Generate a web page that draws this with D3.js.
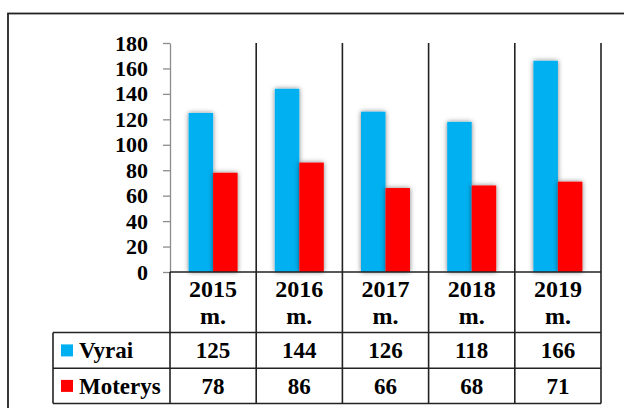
<!DOCTYPE html>
<html>
<head>
<meta charset="utf-8">
<script src="https://cdn.jsdelivr.net/npm/d3@7"></script>
<style>
  body { margin: 0; background: #fff; }
</style>
</head>
<body>
<script>
// duomenys
var metai = ["2015", "2016", "2017", "2018", "2019"];
var serijos = ["Vyrai", "Moterys"];
var vyrai = [125, 144, 126, 118, 166];
var moterys = [78, 86, 66, 68, 71];
var yTicks = [0, 20, 40, 60, 80, 100, 120, 140, 160, 180];
var spalvos = ["#00B0F0", "#FF0000"];

var W = 624, H = 408;
var plot = {left: 170, right: 601, top: 43, bottom: 272};
var lentele = {left: 53, head: 332.5, mid: 368.3, bottom: 403.5};
var sriftas = "'Liberation Serif', 'Times New Roman', serif";

var svg = d3.select("body").append("svg")
    .attr("width", W)
    .attr("height", H);

// seselis stulpeliams
var defs = svg.append("defs");
var f = defs.append("filter").attr("id", "seselis")
    .attr("x", "-40%").attr("y", "-10%").attr("width", "180%").attr("height", "120%");
f.append("feDropShadow")
    .attr("dx", 0).attr("dy", 0)
    .attr("stdDeviation", 2.5)
    .attr("flood-color", "#000")
    .attr("flood-opacity", 0.5);

// isorinis remelis
svg.append("rect")
    .attr("x", 8).attr("y", 13.5)
    .attr("width", 640).attr("height", 420)
    .attr("fill", "none")
    .attr("stroke", "#222")
    .attr("stroke-width", 1.8);

var x0 = d3.scaleBand().domain(metai).range([plot.left, plot.right]).padding(0);
var x1 = d3.scaleBand().domain(serijos).range([0, x0.bandwidth()])
    .paddingInner(0).paddingOuter(0.76);
var y = d3.scaleLinear().domain([0, 180]).range([plot.bottom, plot.top]);

var duomenys = metai.map(function(m, i) {
  return {metai: m, reiksmes: [vyrai[i], moterys[i]]};
});

// stulpeliai
var grupes = svg.selectAll(".grupe")
    .data(duomenys)
    .enter().append("g")
    .attr("class", "grupe")
    .attr("transform", function(d) { return "translate(" + x0(d.metai) + ",0)"; });

grupes.selectAll("rect")
    .data(function(d) { return d.reiksmes.map(function(v, j) { return {s: serijos[j], v: v, j: j}; }); })
    .enter().append("rect")
    .attr("x", function(d) { return x1(d.s); })
    .attr("y", function(d) { return y(d.v); })
    .attr("width", x1.bandwidth())
    .attr("height", function(d) { return y(0) - y(d.v); })
    .attr("fill", function(d) { return spalvos[d.j]; })
    .attr("filter", "url(#seselis)");

// y asis
var yAxis = d3.axisLeft(y).tickValues(yTicks).tickSize(7).tickSizeOuter(0).tickPadding(15);
var ag = svg.append("g")
    .attr("transform", "translate(" + plot.left + ",0)")
    .call(yAxis)
    .attr("font-family", null)
    .attr("font-size", null);
ag.select(".domain").attr("stroke", "#8c8c8c").attr("stroke-width", 1.3);
ag.selectAll(".tick line").attr("stroke", "#8c8c8c").attr("stroke-width", 1.3);
ag.selectAll(".tick text")
    .style("font-family", sriftas)
    .style("font-weight", "bold")
    .style("font-size", "22px")
    .attr("fill", "#000");

// kategoriju skirtukai
var ribos = metai.slice(1).map(function(m) { return x0(m); }).concat([plot.right]);
svg.selectAll(".skirtukas")
    .data(ribos)
    .enter().append("line")
    .attr("x1", function(d) { return d; }).attr("x2", function(d) { return d; })
    .attr("y1", plot.top).attr("y2", lentele.bottom)
    .attr("stroke", "#222").attr("stroke-width", 1.6);

// lenteles linijos
var linija = function(x1_, y1_, x2_, y2_) {
  svg.append("line")
    .attr("x1", x1_).attr("y1", y1_).attr("x2", x2_).attr("y2", y2_)
    .attr("stroke", "#222").attr("stroke-width", 1.6);
};
linija(plot.left, plot.bottom, plot.right, plot.bottom);
linija(plot.left, plot.bottom, plot.left, lentele.bottom);
linija(lentele.left, lentele.head, plot.right, lentele.head);
linija(lentele.left, lentele.mid, plot.right, lentele.mid);
linija(lentele.left, lentele.bottom, plot.right, lentele.bottom);
linija(lentele.left, lentele.head, lentele.left, lentele.bottom);

// metu antrastes
var antr = svg.selectAll(".antraste")
    .data(metai)
    .enter().append("text")
    .attr("text-anchor", "middle")
    .style("font-family", sriftas)
    .style("font-weight", "bold")
    .style("font-size", "24px");
antr.append("tspan")
    .attr("x", function(d) { return x0(d) + x0.bandwidth() / 2; })
    .attr("y", 296.5)
    .text(function(d) { return d; });
antr.append("tspan")
    .attr("x", function(d) { return x0(d) + x0.bandwidth() / 2; })
    .attr("y", 324)
    .text("m.");

// reiksmiu eilutes
var eilutes = [vyrai, moterys];
var eilY = [(lentele.head + lentele.mid) / 2, (lentele.mid + lentele.bottom) / 2];
eilutes.forEach(function(vals, j) {
  svg.selectAll(".r" + j)
      .data(vals)
      .enter().append("text")
      .attr("x", function(d, i) { return x0(metai[i]) + x0.bandwidth() / 2; })
      .attr("y", eilY[j])
      .attr("dy", "0.35em")
      .attr("text-anchor", "middle")
      .style("font-family", sriftas)
      .style("font-weight", "bold")
      .style("font-size", "23px")
      .text(function(d) { return d; });

  // legenda
  svg.append("rect")
      .attr("x", 61).attr("y", eilY[j] - 6)
      .attr("width", 12).attr("height", 12)
      .attr("fill", spalvos[j]);
  svg.append("text")
      .attr("x", 79)
      .attr("y", eilY[j])
      .attr("dy", "0.35em")
      .style("font-family", sriftas)
      .style("font-weight", "bold")
      .style("font-size", "23px")
      .text(serijos[j]);
});
</script>
</body>
</html>
